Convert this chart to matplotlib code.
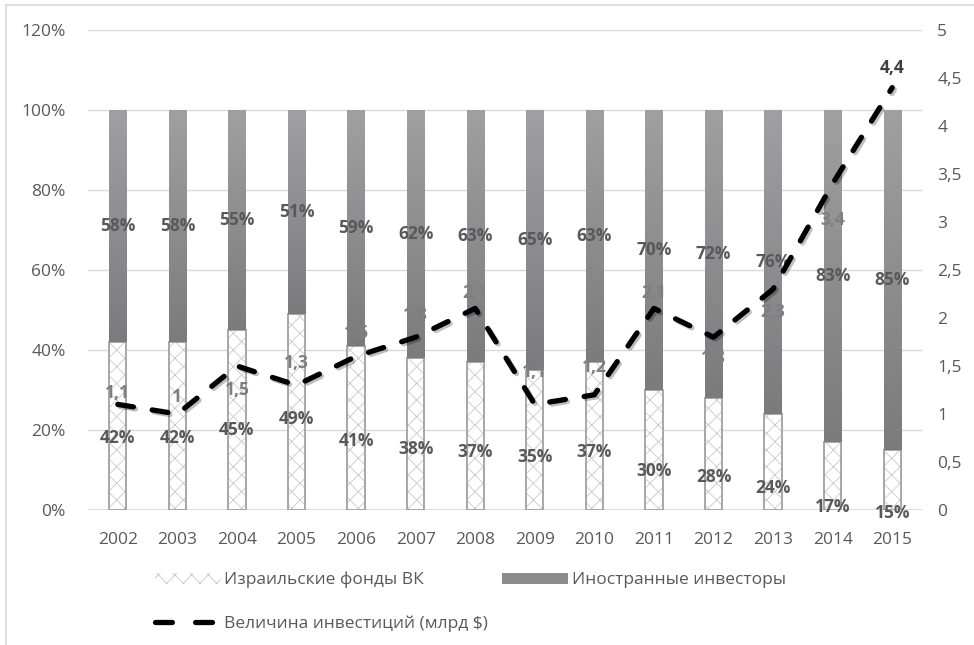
import numpy as np
import matplotlib
matplotlib.use("Agg")
from matplotlib import pyplot as plt
from matplotlib.patches import Patch
from matplotlib.lines import Line2D
import matplotlib.patheffects as pe

plt.rcParams['font.family'] = ['Open Sans', 'DejaVu Sans']
plt.rcParams['hatch.linewidth'] = 0.6

years = ['2002', '2003', '2004', '2005', '2006', '2007', '2008',
         '2009', '2010', '2011', '2012', '2013', '2014', '2015']
israeli = [42, 42, 45, 49, 41, 38, 37, 35, 37, 30, 28, 24, 17, 15]
foreign = [58, 58, 55, 51, 59, 62, 63, 65, 63, 70, 72, 76, 83, 85]
invest = [1.1, 1.0, 1.5, 1.3, 1.6, 1.8, 2.1, 1.1, 1.2, 2.1, 1.8, 2.3, 3.4, 4.4]

# vertical offsets of the line value labels (pixels, + is up)
inv_label_dy = [11, 17, -24, 22, 23, 22, 15, 32, 28, 15, -21, -23, -36, 20]

txt = '#595959'
fig = plt.figure(figsize=(9.74, 6.45), dpi=100)
ax = fig.add_axes([88/974, 135/645, 834/974, 480/645])
ax2 = ax.twinx()

x = np.arange(len(years))
w = 0.29

# israeli funds: hatched white bars
ax.bar(x, israeli, w, color='white', edgecolor='#c8c8c8', hatch='xx', lw=0, zorder=2)
ax.bar(x, israeli, w, color='none', edgecolor='#a0a0a0', lw=1.3, zorder=2)

# foreign investors: grey gradient bars
grad = np.linspace(0, 1, 256).reshape(-1, 1)
cmap = matplotlib.colors.LinearSegmentedColormap.from_list('g', ['#7b7b7d', '#a0a0a2'])
bars = ax.bar(x, foreign, w, bottom=israeli, color='none', lw=0, zorder=2)
for b in bars:
    x0, y0 = b.get_x(), b.get_y()
    im = ax.imshow(grad, extent=[x0, x0 + b.get_width(), y0, y0 + b.get_height()],
                   origin='lower', cmap=cmap, aspect='auto', zorder=2)
    im.set_clip_path(b)

ax.set_xlim(-0.5, len(years) - 0.5)
ax.set_ylim(0, 120)
ax.set_yticks(np.arange(0, 121, 20))
ax.set_yticklabels([f'{v}%' for v in range(0, 121, 20)])
ax.set_xticks(x)
ax.set_xticklabels(years)
ax.grid(axis='y', color='#d9d9d9', lw=1)
ax.set_axisbelow(True)
for s in ax.spines.values():
    s.set_visible(False)
for s in ax2.spines.values():
    s.set_visible(False)
ax.axhline(0, color='#d9d9d9', lw=1.2, zorder=1)
ax.tick_params(axis='both', length=0, labelsize=12.5, labelcolor=txt)
ax.tick_params(axis='y', pad=16)
ax.tick_params(axis='x', pad=16)

# percentage labels
for i in range(len(years)):
    ax.text(x[i], israeli[i] + foreign[i] / 2, f'{foreign[i]}%', ha='center', va='center',
            fontsize=12.5, fontweight='bold', color=txt, zorder=3)
    ax.text(x[i], 0.69 * israeli[i] - 11, f'{israeli[i]}%', ha='center', va='center',
            fontsize=12.5, fontweight='bold', color=txt, zorder=3)

# investment line
ls = (0, (3.0, 3.6))
ax2.plot(x, invest, color='black', lw=3.8, linestyle=ls, dash_capstyle='round',
         solid_capstyle='round', zorder=4,
         path_effects=[pe.SimpleLineShadow(offset=(1.5, -1.5), alpha=0.25), pe.Normal()])
ax2.set_ylim(0, 5)
ax2.set_yticks(np.arange(0, 5.01, 0.5))
ax2.set_yticklabels([f'{v:g}'.replace('.', ',') for v in np.arange(0, 5.01, 0.5)])
ax2.tick_params(axis='y', length=0, labelsize=12.5, labelcolor=txt, pad=11)

for i in range(len(years)):
    last = i == len(years) - 1
    ax2.annotate(f'{invest[i]:g}'.replace('.', ','), (x[i], invest[i]),
                 xytext=(0, inv_label_dy[i]), textcoords='offset pixels',
                 ha='center', va='center', fontsize=12.5, fontweight='bold',
                 color='#404040' if last else '#7f7f7f', zorder=5)

# legend
handles = [Patch(facecolor='white', edgecolor='#c8c8c8', hatch='xx', lw=0),
           Line2D([0], [0], color='black', lw=3.8, linestyle=(0, (3.2, 4.4)),
                  dash_capstyle='round'),
           Patch(facecolor='#8c8c8e', lw=0)]
labels = ['Израильские фонды ВК', 'Величина инвестиций (млрд $)', 'Иностранные инвесторы']
fig.legend(handles, labels, ncol=2, loc='upper left', bbox_to_anchor=(155/974, 1 - 572/645),
           frameon=False, fontsize=12.5, labelcolor=txt, handlelength=3.8, handleheight=0.6,
           handletextpad=0.2, columnspacing=0.8, labelspacing=1.55, borderpad=0, borderaxespad=0)

# chart frame
fig.add_artist(Line2D([6/974, 6/974], [0, 1 - 5/645], color='#d9d9d9', lw=1.2))
fig.add_artist(Line2D([6/974, 1], [1 - 5/645, 1 - 5/645], color='#d9d9d9', lw=1.2))

fig.savefig('out.png', dpi=100)
